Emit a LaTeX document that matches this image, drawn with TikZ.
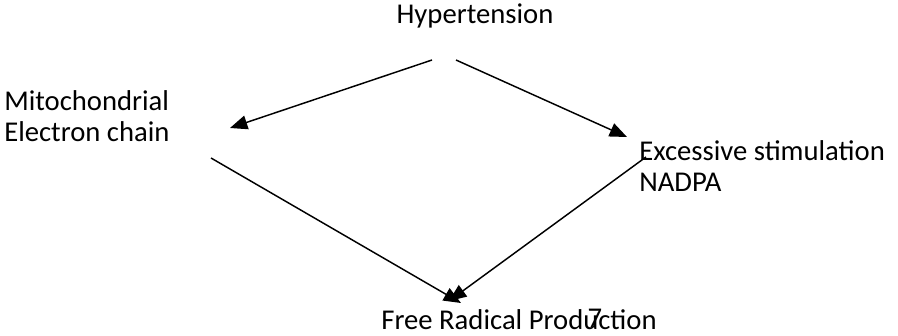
\documentclass[tikz,border=0pt]{standalone}
\usepackage{fontspec}
\setmainfont{Carlito}
\usetikzlibrary{arrows.meta,positioning,calc}

\begin{document}
\begin{tikzpicture}[x=0.75pt,y=-0.75pt,>={Triangle[length=13pt,width=10.5pt]},
    lbl/.style={inner sep=0pt,font=\fontsize{21.5}{23}\selectfont},
    link/.style={->,line width=1.1pt}]
      \useasboundingbox (0,0) rectangle (898,335);

      % labels
      \node[lbl] (hyp) at (475,16) {Hypertension};
      \node[lbl,anchor=west,align=left] (mito) at (4,116) {Mitochondrial\\Electron chain};
      \node[lbl,anchor=west,align=left] (nadpa) at (639,166) {Excessive stimulation\\NADPA};
      \node[lbl,anchor=base] (frp) at (519,329) {Free Radical Production};
      \node[lbl,anchor=base] (pg) at (595,327) {7};

      % arrow ends
      \coordinate (hypL) at (432,60);
      \coordinate (hypR) at (456,60);
      \coordinate (mitoIn) at (230,128);
      \coordinate (mitoOut) at (211,158);
      \coordinate (nadIn) at (627,137);
      \coordinate (nadOut) at (646,157);
      \coordinate (frpL) at (461,303);
      \coordinate (frpR) at (449,301);

      \draw[link] (hypL) -- (mitoIn);
      \draw[link] (hypR) -- (nadIn);
      \draw[link] (mitoOut) -- (frpL);
      \draw[link] (nadOut) -- (frpR);
\end{tikzpicture}
\end{document}
